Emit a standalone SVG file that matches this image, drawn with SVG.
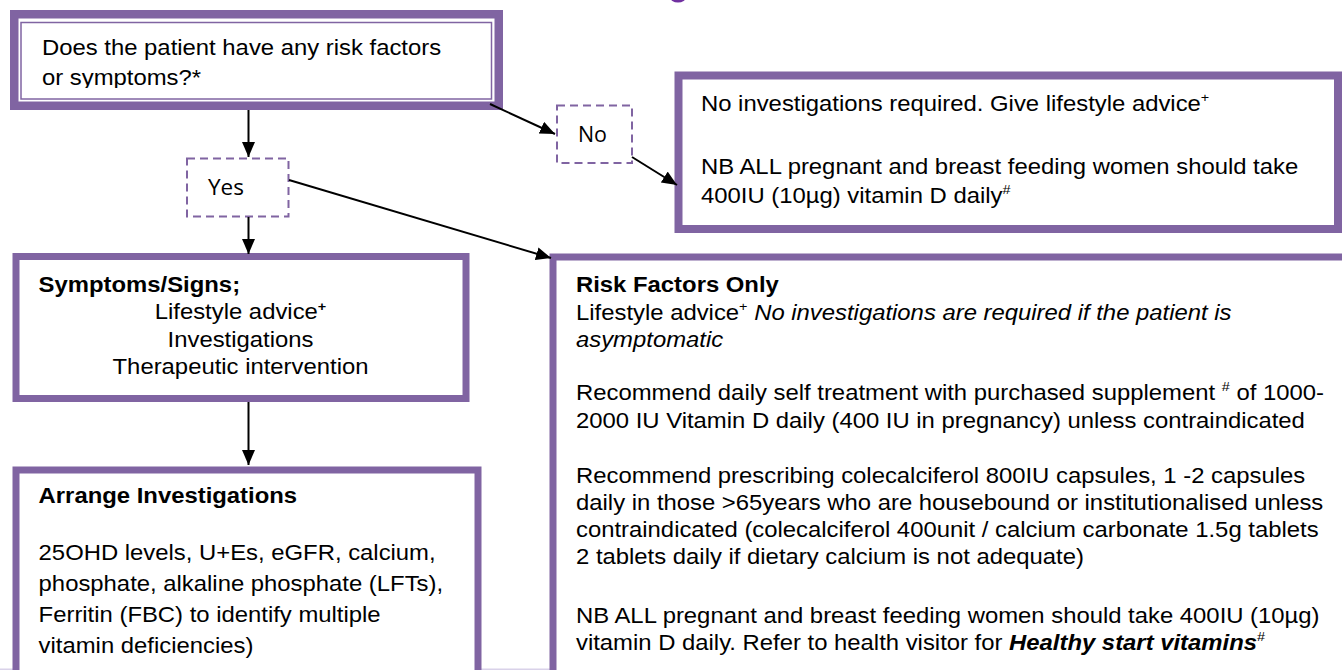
<svg xmlns="http://www.w3.org/2000/svg" width="1342" height="670" viewBox="0 0 1342 670">
<style>
.t{font-family:"Liberation Sans",Arial,sans-serif;font-size:21.5px;fill:#000}
.b{font-weight:bold}
.i{font-style:italic}
.sup{font-size:13px}
.lbl{font-family:"Open Sans","Noto Sans",sans-serif;font-size:21px;fill:#000}
.box{fill:#fff;stroke:#8064A2}
.dash{fill:#fff;stroke:#8064A2;stroke-width:2;stroke-dasharray:8 5}
.conn{stroke:#000;stroke-width:2;fill:none;marker-end:url(#ah)}
</style>
<defs>
<marker id="ah" markerUnits="userSpaceOnUse" markerWidth="16" markerHeight="14" refX="15" refY="6.5" orient="auto">
<path d="M0,0 L15,6.5 L0,13 z" fill="#000"/>
</marker>
<clipPath id="clipQ"><rect x="21" y="22" width="470" height="66"/></clipPath>
</defs>
<rect width="1342" height="670" fill="#fff"/>
<ellipse cx="678" cy="-3" rx="8" ry="5.5" fill="#7030A0"/>
<rect x="0" y="668.5" width="1342" height="1.5" fill="#D9D2E9"/>

<g id="n-question">
<rect class="box" x="14.25" y="14.25" width="484.5" height="91.5" stroke-width="8.5"/>
<rect x="21" y="22.5" width="470.5" height="76.5" fill="none" stroke="#8064A2" stroke-width="1.5"/>
<g clip-path="url(#clipQ)">
<text class="t" transform="translate(42 55) scale(1.11 1)">Does the patient have any risk factors</text>
<text class="t" transform="translate(42 85) scale(1.11 1)">or symptoms?*</text>
</g>
</g>

<g id="n-no">
<rect class="dash" x="557" y="105.5" width="75" height="57.5"/>
<text class="lbl" x="578" y="141.7" textLength="29" lengthAdjust="spacingAndGlyphs">No</text>
</g>

<g id="n-yes">
<rect class="dash" x="187" y="158.5" width="101.5" height="58"/>
<text class="lbl" x="208" y="195" textLength="36" lengthAdjust="spacingAndGlyphs">Yes</text>
</g>

<g id="n-noinv">
<rect class="box" x="678.5" y="75.5" width="659.5" height="153.5" stroke-width="8"/>
<text class="t" transform="translate(701 110.5) scale(1.11 1)">No investigations required. Give lifestyle advice<tspan class="sup" dy="-9">+</tspan></text>
<text class="t" transform="translate(701 174) scale(1.11 1)">NB ALL pregnant and breast feeding women should take</text>
<text class="t" transform="translate(701 203) scale(1.11 1)">400IU (10µg) vitamin D daily<tspan class="sup" dy="-9">#</tspan></text>
</g>

<g id="n-symptoms">
<rect class="box" x="16" y="256.5" width="450" height="142" stroke-width="7"/>
<text class="t b" transform="translate(38.6 291.5) scale(1.11 1)">Symptoms/Signs;</text>
<text class="t" text-anchor="middle" transform="translate(240.5 319) scale(1.11 1)">Lifestyle advice<tspan class="sup b" dy="-8">+</tspan></text>
<text class="t" text-anchor="middle" transform="translate(240.5 346.5) scale(1.11 1)">Investigations</text>
<text class="t" text-anchor="middle" transform="translate(240.5 374) scale(1.11 1)">Therapeutic intervention</text>
</g>

<g id="n-arrange">
<rect class="box" x="16" y="470" width="462" height="220" stroke-width="7"/>
<text class="t b" transform="translate(38.6 503.3) scale(1.11 1)">Arrange Investigations</text>
<text class="t" transform="translate(38.6 560) scale(1.11 1)">25OHD levels, U+Es, eGFR, calcium,</text>
<text class="t" transform="translate(38.6 590.5) scale(1.11 1)">phosphate, alkaline phosphate (LFTs),</text>
<text class="t" transform="translate(38.6 621.5) scale(1.11 1)">Ferritin (FBC) to identify multiple</text>
<text class="t" transform="translate(38.6 652.5) scale(1.11 1)">vitamin deficiencies)</text>
</g>

<g id="n-risk">
<rect class="box" x="553" y="257" width="800" height="440" stroke-width="7"/>
<text class="t b" transform="translate(576 292) scale(1.11 1)">Risk Factors Only</text>
<text class="t" transform="translate(576 319.5) scale(1.11 1)">Lifestyle advice<tspan class="sup" dy="-9">+</tspan><tspan class="i" dy="9"> No investigations are required if the patient is</tspan></text>
<text class="t i" transform="translate(576 346.5) scale(1.11 1)">asymptomatic</text>
<text class="t" transform="translate(576 400) scale(1.11 1)">Recommend daily self treatment with purchased supplement <tspan class="sup" dy="-9">#</tspan><tspan dy="9"> of 1000-</tspan></text>
<text class="t" transform="translate(576 427.5) scale(1.11 1)">2000 IU Vitamin D daily (400 IU in pregnancy) unless contraindicated</text>
<text class="t" transform="translate(576 483) scale(1.11 1)">Recommend prescribing colecalciferol 800IU capsules, 1 -2 capsules</text>
<text class="t" transform="translate(576 510) scale(1.11 1)">daily in those &gt;65years who are housebound or institutionalised unless</text>
<text class="t" transform="translate(576 537) scale(1.11 1)">contraindicated (colecalciferol 400unit / calcium carbonate 1.5g tablets</text>
<text class="t" transform="translate(576 564) scale(1.11 1)">2 tablets daily if dietary calcium is not adequate)</text>
<text class="t" transform="translate(576 623) scale(1.11 1)">NB ALL pregnant and breast feeding women should take 400IU (10µg)</text>
<text class="t" transform="translate(576 650) scale(1.11 1)">vitamin D daily. Refer to health visitor for <tspan class="b i">Healthy start vitamins</tspan><tspan class="sup" dy="-9">#</tspan></text>
</g>

<g id="connectors">
<line class="conn" x1="248.5" y1="110" x2="248.5" y2="157"/>
<line class="conn" x1="490" y1="104" x2="555" y2="134"/>
<line class="conn" x1="632" y1="157" x2="677" y2="185"/>
<line class="conn" x1="289" y1="180" x2="551" y2="258"/>
<line class="conn" x1="248.5" y1="217" x2="248.5" y2="254"/>
<line class="conn" x1="248.5" y1="402" x2="248.5" y2="465"/>
</g>
</svg>
